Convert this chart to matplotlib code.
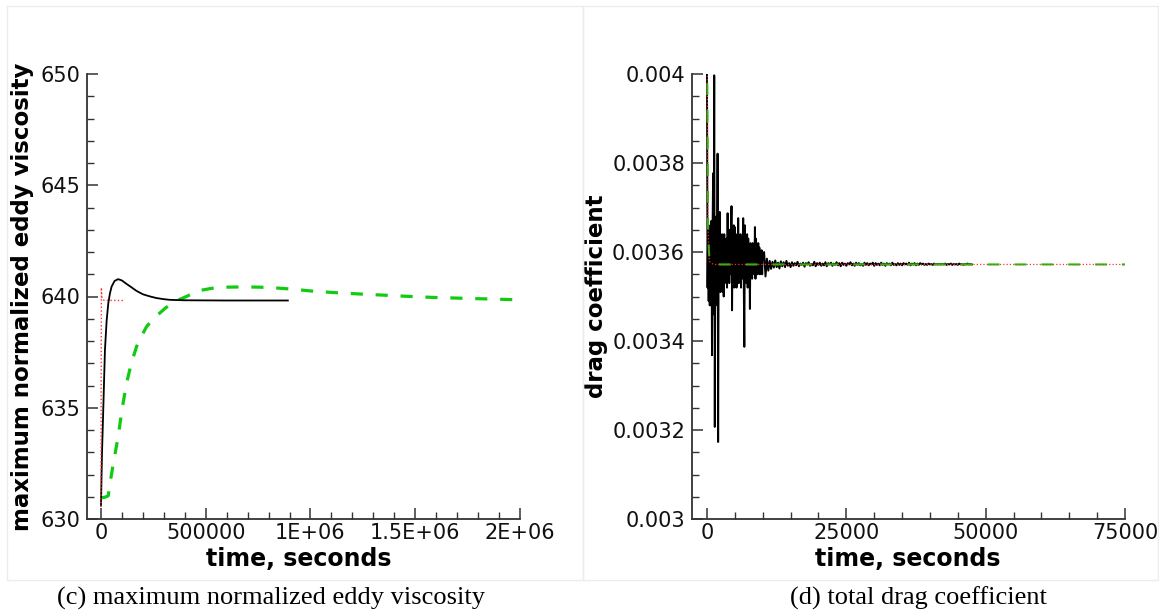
import numpy as np
import matplotlib
matplotlib.use("Agg")
import matplotlib.pyplot as plt
from matplotlib.ticker import MultipleLocator, FixedLocator, FixedFormatter
from matplotlib.patches import Rectangle

plt.rcParams['font.family'] = ['DejaVu Sans']

# ---------------- (c) maximum normalized eddy viscosity ----------------
visc_black_t = [0, 5000, 10000, 19000, 27000, 35000, 43000, 51000, 65000, 82000,
                100000, 120000, 140000, 170000, 200000, 235000, 265000, 300000,
                329000, 400000, 600000, 892000]
visc_black_v = [630.6, 633.0, 634.6, 637.6, 638.9, 639.7, 640.15, 640.45, 640.7, 640.78,
                640.72, 640.58, 640.45, 640.25, 640.1, 640.0, 639.93, 639.88,
                639.85, 639.83, 639.82, 639.82]

visc_red_t = [0, 1000, 2000, 3000, 5000, 8000, 15000, 114000]
visc_red_v = [630.55, 636.0, 640.4, 640.2, 639.95, 639.86, 639.83, 639.82]

visc_green_t = [0, 20000, 35000, 43000, 59000, 82000, 100000, 122000, 145000, 170000,
                195000, 218000, 250000, 281000, 310000, 344000, 375000, 408000,
                440000, 471000, 530000, 598000, 680000, 757000, 840000, 914000,
                1000000, 1106000, 1220000, 1329000, 1456000, 1582000, 1694000,
                1805000, 1963000]
visc_green_v = [630.95, 630.98, 631.05, 631.6, 632.5, 633.7, 634.9, 636.1, 637.0, 637.75,
                638.25, 638.65, 639.0, 639.26, 639.5, 639.7, 639.87, 640.0,
                640.15, 640.27, 640.37, 640.42, 640.43, 640.42, 640.38, 640.33,
                640.25, 640.18, 640.12, 640.07, 640.01, 639.96, 639.93,
                639.9, 639.86]

visc_xticks = [0, 500000, 1000000, 1500000, 2000000]
visc_xticklabels = ['0', '500000', '1E+06', '1.5E+06', '2E+06']
visc_yticks = [630, 635, 640, 645, 650]
visc_yticklabels = ['630', '635', '640', '645', '650']

# ---------------- (d) total drag coefficient ----------------
# black run: output every 100 s during the start-up burst (0 .. 10000 s)
drag_burst_dt = 100
drag_burst_v = [
    0.00400, 0.00352, 0.00366, 0.00349, 0.00364, 0.00348, 0.00366, 0.00353, 0.00367, 0.003368,
    0.00365, 0.003777, 0.00346, 0.003997, 0.003207, 0.00366, 0.00348, 0.00368, 0.00350, 0.003821,
    0.003173, 0.00364, 0.00352, 0.00369, 0.00351, 0.00363, 0.00354, 0.00364, 0.00351, 0.00362,
    0.00350, 0.00364, 0.00353, 0.00362, 0.00355, 0.00363, 0.00352, 0.003687, 0.00354, 0.00364,
    0.00353, 0.00365, 0.00355, 0.00362, 0.003703, 0.003469, 0.00364, 0.00353, 0.00366, 0.00352,
    0.003656, 0.00354, 0.00363, 0.00352, 0.00364, 0.00355, 0.003676, 0.00353, 0.00362, 0.00354,
    0.00364, 0.00352, 0.00363, 0.00354, 0.00362, 0.003676, 0.00353, 0.003387, 0.00366, 0.00355,
    0.00362, 0.00353, 0.00364, 0.00352, 0.00363, 0.00356, 0.00361, 0.003472, 0.00362, 0.00355,
    0.00361, 0.00354, 0.00362, 0.00356, 0.00360, 0.00355, 0.003656, 0.00354, 0.00363, 0.00356,
    0.00361, 0.00355, 0.00362, 0.00356, 0.00361, 0.00355, 0.00360, 0.00356, 0.003604, 0.00355,
    0.00359,
]
# black run: output every 250 s afterwards (10250 .. 47500 s)
drag_tail_start = 10250
drag_tail_dt = 250
drag_tail_v = [
    0.003600, 0.003545, 0.003585, 0.003558, 0.003580, 0.003562, 0.003578, 0.003565, 0.003581, 0.003566,
    0.003576, 0.003563, 0.003579, 0.003568, 0.003577, 0.003566, 0.003580, 0.003569, 0.003575, 0.003566,
    0.003577, 0.003569, 0.003575, 0.003570, 0.003578, 0.003568, 0.003574, 0.003571, 0.003576, 0.003567,
    0.003575, 0.003572, 0.003577, 0.003569, 0.003573, 0.003570, 0.003578, 0.003568, 0.003575, 0.003571,
    0.003576, 0.003569, 0.003574, 0.003570, 0.003577, 0.003568, 0.003575, 0.003572, 0.003576, 0.003569,
    0.003574, 0.003571, 0.003577, 0.003570, 0.003575, 0.003568, 0.003576, 0.003571, 0.003574, 0.003569,
    0.003575, 0.003572, 0.003577, 0.003570, 0.003574, 0.003569, 0.003576, 0.003571, 0.003575, 0.003570,
    0.003573, 0.003569, 0.003576, 0.003571, 0.003575, 0.003570, 0.003574, 0.003572, 0.003576, 0.003569,
    0.003575, 0.003571, 0.003574, 0.003570, 0.003576, 0.003571, 0.003574, 0.003569, 0.003575, 0.003572,
    0.003574, 0.003570, 0.003576, 0.003571, 0.003573, 0.003570, 0.003575, 0.003571, 0.003574, 0.003570,
    0.003575, 0.003572, 0.003574, 0.003571, 0.003576, 0.003570, 0.003574, 0.003572, 0.003575, 0.003570,
    0.003574, 0.003571, 0.003575, 0.003572, 0.003574, 0.003571, 0.003573, 0.003571, 0.003574, 0.003572,
    0.003573, 0.003571, 0.003574, 0.003572, 0.003573, 0.003572, 0.003573, 0.003572, 0.003573, 0.003572,
    0.003574, 0.003571, 0.003573, 0.003572, 0.003574, 0.003571, 0.003573, 0.003572, 0.003573, 0.003571,
    0.003574, 0.003572, 0.003573, 0.003571, 0.003573, 0.003572, 0.003574, 0.003572, 0.003573, 0.003572,
]

drag_red_t = [0, 200, 350, 500, 800, 1500, 75000]
drag_red_v = [0.00410, 0.00365, 0.00359, 0.003578, 0.003574, 0.003572, 0.003572]
drag_green_t = [0, 200, 350, 500, 800, 1500, 75000]
drag_green_v = [0.00410, 0.00366, 0.00360, 0.003580, 0.003575, 0.003572, 0.003572]

drag_xticks = [0, 25000, 50000, 75000]
drag_xticklabels = ['0', '25000', '50000', '75000']
drag_yticks = [0.003, 0.0032, 0.0034, 0.0036, 0.0038, 0.004]
drag_yticklabels = ['0.003', '0.0032', '0.0034', '0.0036', '0.0038', '0.004']

drag_burst_t = np.arange(len(drag_burst_v)) * drag_burst_dt
drag_tail_t = drag_tail_start + np.arange(len(drag_tail_v)) * drag_tail_dt
drag_black_t = np.concatenate([drag_burst_t, drag_tail_t])
drag_black_v = np.concatenate([drag_burst_v, drag_tail_v])

# ---------------- figure ----------------
W, H = 1159, 616
fig = plt.figure(figsize=(W / 100, H / 100), dpi=100)
fig.patch.set_facecolor('white')

# light frames around the two panels
for x0, x1 in [(7, 583), (583, 1158)]:
    fig.patches.append(Rectangle((x0 / W, 1 - 580 / H), (x1 - x0) / W, (580 - 6) / H,
                                 transform=fig.transFigure, fill=False,
                                 edgecolor='#ececec', linewidth=1.0, zorder=0))

ax1 = fig.add_axes([87 / W, 1 - 519 / H, (520 - 87) / W, (519 - 74) / H])
ax2 = fig.add_axes([692 / W, 1 - 519 / H, (1125 - 692) / W, (519 - 74) / H])

GREEN = '#10cc10'
RED = '#ff3030'

ax1.plot(visc_green_t, visc_green_v, color=GREEN, lw=2.3, dashes=(3.8, 4.0), zorder=2)
ax1.plot(visc_black_t, visc_black_v, color='black', lw=1.3, zorder=3)
ax1.plot(visc_red_t, visc_red_v, color=RED, lw=1.0, ls=':', zorder=4)
ax1.set_xlim(-66667, 2000000)
ax1.set_ylim(630, 650)
ax1.xaxis.set_major_locator(FixedLocator(visc_xticks))
ax1.xaxis.set_major_formatter(FixedFormatter(visc_xticklabels))
ax1.xaxis.set_minor_locator(MultipleLocator(100000))
ax1.yaxis.set_major_locator(FixedLocator(visc_yticks))
ax1.yaxis.set_major_formatter(FixedFormatter(visc_yticklabels))
ax1.yaxis.set_minor_locator(MultipleLocator(1))

ax2.plot(drag_black_t, drag_black_v, color='black', lw=1.4, zorder=2)
ax2.plot(drag_green_t, drag_green_v, color=GREEN, lw=1.5, dashes=(5.7, 7.2), zorder=3)
ax2.plot(drag_red_t, drag_red_v, color=RED, lw=0.9, ls=':', zorder=4)
ax2.set_xlim(-2688, 75000)
ax2.set_ylim(0.003, 0.004)
ax2.xaxis.set_major_locator(FixedLocator(drag_xticks))
ax2.xaxis.set_major_formatter(FixedFormatter(drag_xticklabels))
ax2.xaxis.set_minor_locator(MultipleLocator(5000))
ax2.yaxis.set_major_locator(FixedLocator(drag_yticks))
ax2.yaxis.set_major_formatter(FixedFormatter(drag_yticklabels))
ax2.yaxis.set_minor_locator(MultipleLocator(0.00005))

for ax in (ax1, ax2):
    ax.spines['top'].set_visible(False)
    ax.spines['right'].set_visible(False)
    for s in ('left', 'bottom'):
        ax.spines[s].set_color('#333333')
        ax.spines[s].set_linewidth(1.3)
    ax.tick_params(which='major', direction='in', length=8, width=1.1,
                   color='#333333', labelsize=15, labelcolor='#111111')
    ax.tick_params(axis='x', which='major', pad=3)
    ax.tick_params(axis='y', which='major', pad=5)
    ax.tick_params(which='minor', direction='in', length=5, width=1.0, color='#333333')
    ax.set_xlabel('time, seconds', fontsize=17, fontweight='bold')

ax1.set_ylabel('maximum normalized eddy viscosity', fontsize=16.5, fontweight='bold')
ax2.set_ylabel('drag coefficient', fontsize=16.5, fontweight='bold')
ax1.yaxis.set_label_coords(-0.122, 0.5)
ax2.yaxis.set_label_coords(-0.194, 0.5)
ax1.xaxis.set_label_coords(0.49, -0.062)
ax2.xaxis.set_label_coords(0.499, -0.062)

fig.text(271 / W, 1 - 598 / H, '(c) maximum normalized eddy viscosity',
         family=['Liberation Serif', 'DejaVu Serif'], fontsize=19,
         ha='center', va='center')
fig.text(918 / W, 1 - 598 / H, '(d) total drag coefficient',
         family=['Liberation Serif', 'DejaVu Serif'], fontsize=19,
         ha='center', va='center')

fig.savefig('out.png', dpi=100, facecolor='white')
